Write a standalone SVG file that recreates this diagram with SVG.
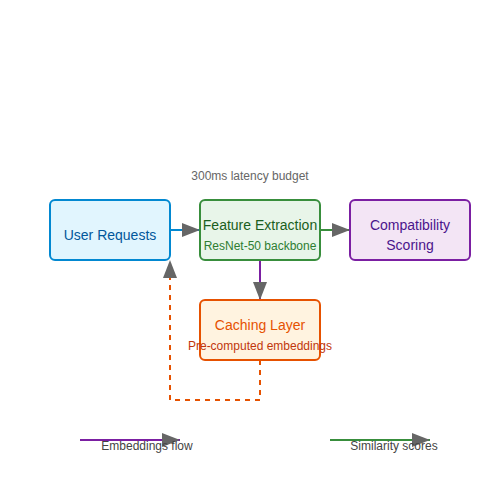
<svg xmlns="http://www.w3.org/2000/svg" width="500" height="500" viewBox="0 0 500 500">
<style>
text{font-family:"Liberation Sans",Arial,sans-serif;text-anchor:middle}
.box{stroke-width:2}
.t{font-size:14px}
.s{font-size:12px}
.lbl{font-size:12px;fill:#666}
.leg{font-size:12px;fill:#444}
.c{fill:none;stroke-width:2}
</style>
<defs>
<marker id="ah" viewBox="0 0 9 7" markerWidth="9" markerHeight="7" refX="9" refY="3.5" orient="auto" markerUnits="strokeWidth">
<path d="M0,0 L9,3.5 L0,7 Z" fill="#666"/>
</marker>
</defs>
<rect width="500" height="500" fill="#fff"/>
<text class="lbl" x="250" y="180">300ms latency budget</text>
<g id="connectors">
<line class="c" x1="170" y1="230" x2="200" y2="230" stroke="#0288d1" marker-end="url(#ah)"/>
<line class="c" x1="320" y1="230" x2="350" y2="230" stroke="#388e3c" marker-end="url(#ah)"/>
<line class="c" x1="260" y1="260" x2="260" y2="300" stroke="#7b1fa2" marker-end="url(#ah)"/>
<polyline class="c" points="260,360 260,400 170,400 170,260" stroke="#e65100" stroke-dasharray="5,5" marker-end="url(#ah)"/>
</g>
<g id="user-requests">
<rect class="box" x="50" y="200" width="120" height="60" rx="5" fill="#e1f5fe" stroke="#0288d1"/>
<text class="t" x="110" y="240" fill="#01579b">User Requests</text>
</g>
<g id="feature-extraction">
<rect class="box" x="200" y="200" width="120" height="60" rx="5" fill="#e8f5e9" stroke="#388e3c"/>
<text class="t" x="260" y="230" fill="#1b5e20">Feature Extraction</text>
<text class="s" x="260" y="250" fill="#2e7d32">ResNet-50 backbone</text>
</g>
<g id="compatibility-scoring">
<rect class="box" x="350" y="200" width="120" height="60" rx="5" fill="#f3e5f5" stroke="#7b1fa2"/>
<text class="t" x="410" y="230" fill="#4a148c">Compatibility</text>
<text class="t" x="410" y="250" fill="#4a148c">Scoring</text>
</g>
<g id="caching-layer">
<rect class="box" x="200" y="300" width="120" height="60" rx="5" fill="#fff3e0" stroke="#e65100"/>
<text class="t" x="260" y="330" fill="#e65100">Caching Layer</text>
<text class="s" x="260" y="350" fill="#bf360c">Pre-computed embeddings</text>
</g>
<g id="legend">
<line class="c" x1="80" y1="440" x2="180" y2="440" stroke="#7b1fa2" marker-end="url(#ah)"/>
<text class="leg" x="147" y="450">Embeddings flow</text>
<line class="c" x1="330" y1="440" x2="430" y2="440" stroke="#388e3c" marker-end="url(#ah)"/>
<text class="leg" x="394" y="450">Similarity scores</text>
</g>
</svg>
